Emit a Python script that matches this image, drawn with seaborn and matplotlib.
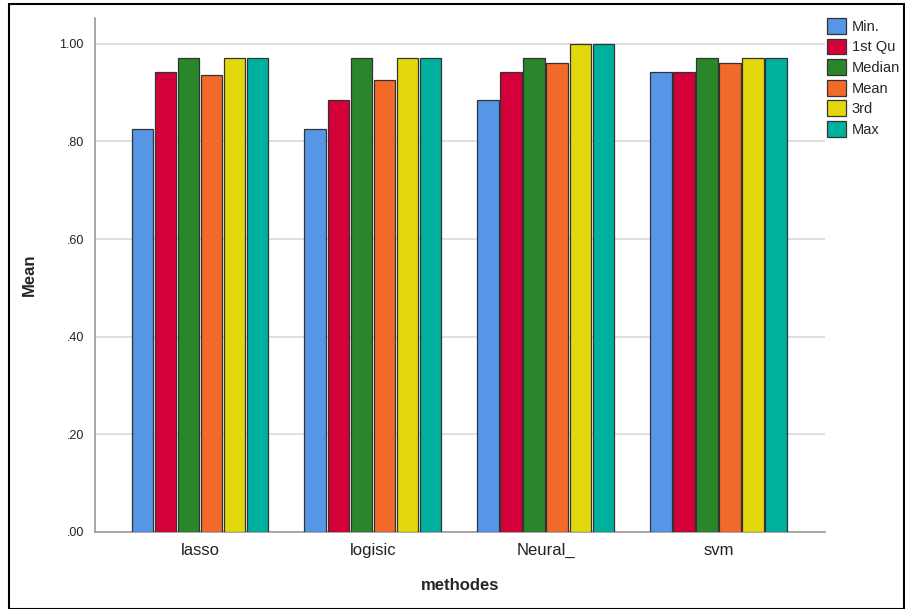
import pandas as pd
import numpy as np
import matplotlib
matplotlib.use("Agg")
import matplotlib.pyplot as plt
import seaborn as sns
from matplotlib.patches import Rectangle
from matplotlib.ticker import FuncFormatter

methods = ["lasso", "logisic", "Neural_", "svm"]
stats = ["Min.", "1st Qu", "Median", "Mean", "3rd", "Max"]

# values, one list per statistic
min_vals = [0.826, 0.826, 0.884, 0.943]
q1_vals = [0.943, 0.884, 0.943, 0.943]
median_vals = [0.971, 0.971, 0.971, 0.971]
mean_vals = [0.936, 0.925, 0.960, 0.960]
q3_vals = [0.971, 0.971, 1.000, 0.971]
max_vals = [0.971, 0.971, 1.000, 0.971]

colors = ["#5596E6", "#D3003A", "#2A862A", "#F26A2A", "#E3D80E", "#00B09E"]

rows = []
for s, vals in zip(stats, [min_vals, q1_vals, median_vals, mean_vals, q3_vals, max_vals]):
    for m, v in zip(methods, vals):
        rows.append({"methodes": m, "stat": s, "Mean": v})
df = pd.DataFrame(rows)

sns.set_style("white")
plt.rcParams['font.family'] = ['Liberation Sans', 'DejaVu Sans']

fig = plt.figure(figsize=(9.05, 6.09), dpi=100)
ax = fig.add_axes([95 / 905, 1 - 532 / 609, (825 - 95) / 905, (532 - 18) / 609])

sns.barplot(data=df, x="methodes", y="Mean", hue="stat", order=methods,
            hue_order=stats, palette=colors, saturation=1, width=0.8, gap=0.07,
            errorbar=None, edgecolor="#333333", linewidth=0.9, ax=ax, zorder=3)

ax.set_ylim(0, 1.053)
ax.set_xlim(-0.607, 3.616)
ax.set_yticks([0, 0.2, 0.4, 0.6, 0.8, 1.0])
ax.yaxis.set_major_formatter(FuncFormatter(lambda v, p: ("%.2f" % v).lstrip("0") if v < 1 else "%.2f" % v))
ax.yaxis.grid(True, color="#D9D9D9", linewidth=1.2, zorder=0)
ax.set_axisbelow(True)
ax.tick_params(axis="y", length=0, labelsize=9, colors="#222222", pad=8)
ax.tick_params(axis="x", length=0, labelsize=12, colors="#222222", pad=8)
for side in ["top", "right"]:
    ax.spines[side].set_visible(False)
for side in ["left", "bottom"]:
    ax.spines[side].set_color("#999999")
    ax.spines[side].set_linewidth(1.2)

ax.set_xlabel("methodes", fontsize=12, fontweight="bold", labelpad=14)
ax.set_ylabel("Mean", fontsize=12, fontweight="bold", labelpad=16)

ax.legend(loc="upper left", bbox_to_anchor=(827 / 905, 1 - 18 / 609),
          bbox_transform=fig.transFigure, frameon=False, fontsize=10.5,
          handlelength=1.3, handleheight=1.3, handletextpad=0.4,
          labelspacing=0.32, borderpad=0, borderaxespad=0)

fig.patches.append(Rectangle((9 / 905, 0), 1 - 10 / 905, 1 - 4 / 609,
                             transform=fig.transFigure, fill=False,
                             edgecolor="black", linewidth=1.5))

plt.savefig("out.png", dpi=100)
